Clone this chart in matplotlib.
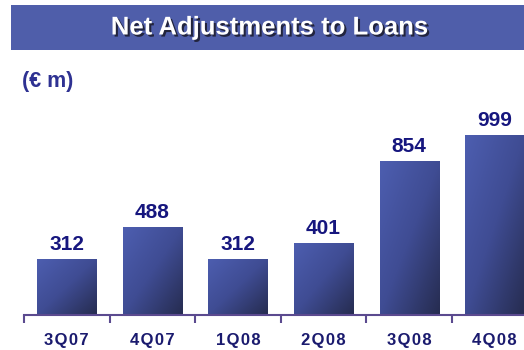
import numpy as np
import matplotlib
matplotlib.use("Agg")
import matplotlib.pyplot as plt
import matplotlib.patheffects as pe
from matplotlib.patches import Rectangle
from matplotlib.colors import LinearSegmentedColormap

plt.rcParams['font.family'] = ['Liberation Sans', 'DejaVu Sans']

quarters = ['3Q07', '4Q07', '1Q08', '2Q08', '3Q08', '4Q08']
values = [312, 488, 312, 401, 854, 999]

W, H = 524, 350
fig = plt.figure(figsize=(W / 100, H / 100), dpi=100)

# title band
band = fig.add_axes([11 / W, 1 - 50 / H, 1 - 11 / W, 45 / H])
band.set_facecolor('#4F5EAA')
band.set_xticks([])
band.set_yticks([])
for s in band.spines.values():
    s.set_visible(False)
band.text(0.505, 0.5, 'Net Adjustments to Loans', color='white', fontsize=18.5,
          fontweight='bold', ha='center', va='center', transform=band.transAxes,
          path_effects=[pe.SimplePatchShadow(offset=(1.5, -1.5), shadow_rgbFace='#1a1a2a', alpha=0.85),
                        pe.Normal()])

fig.text(22 / W, 1 - 81 / H, '(€ m)', color='#2E3192', fontsize=15.5, fontweight='bold',
         ha='left', va='center')

# chart axes: category width ~85.6 px, first tick at x=24, baseline at y=315
cat_w = 85.6
left = 24
bottom = 315
ymax = 1100
ax_h = 180 * ymax / 999
ax = fig.add_axes([left / W, 1 - bottom / H, cat_w * 6 / W, ax_h / H])
ax.set_xlim(-0.5, 5.5)
ax.set_ylim(0, ymax)
ax.patch.set_alpha(0)

cmap = LinearSegmentedColormap.from_list('bar', ['#4D5EB0', '#3F4C93', '#262C50'])
grad = np.add.outer(np.linspace(0, 1, 64), np.linspace(0, 1, 64)) / 2  # top-left light, bottom-right dark

bw = 0.69
for i, v in enumerate(values):
    x0 = i - bw / 2
    im = ax.imshow(grad, cmap=cmap, extent=[x0, x0 + bw, 0, v], aspect='auto',
                   interpolation='bilinear', origin='upper', zorder=2)
    clip = Rectangle((x0, 0), bw, v, transform=ax.transData, facecolor='none', edgecolor='none')
    ax.add_patch(clip)
    im.set_clip_path(clip)
    ax.text(i, v + 80, str(v), ha='center', va='center', fontsize=15, fontweight='bold',
            color='#16167E')

ax.set_xlim(-0.5, 5.5)
ax.set_ylim(0, ymax)

for s in ['top', 'right', 'left']:
    ax.spines[s].set_visible(False)
ax.spines['bottom'].set_color('#5B4A8F')
ax.spines['bottom'].set_linewidth(1.5)
ax.set_yticks([])
ax.set_xticks(np.arange(-0.5, 6.0, 1.0))
ax.set_xticklabels([])
ax.tick_params(axis='x', length=6, width=1.5, color='#5B4A8F', direction='out')

# category labels with extra letter spacing (hair spaces)
for i, q in enumerate(quarters):
    ax.text(i, -26 / 180 * 999, '\u200a'.join(q), ha='center', va='center',
            fontsize=12, fontweight='bold', color='#1A1A6E')

fig.savefig('out.png', dpi=100)
